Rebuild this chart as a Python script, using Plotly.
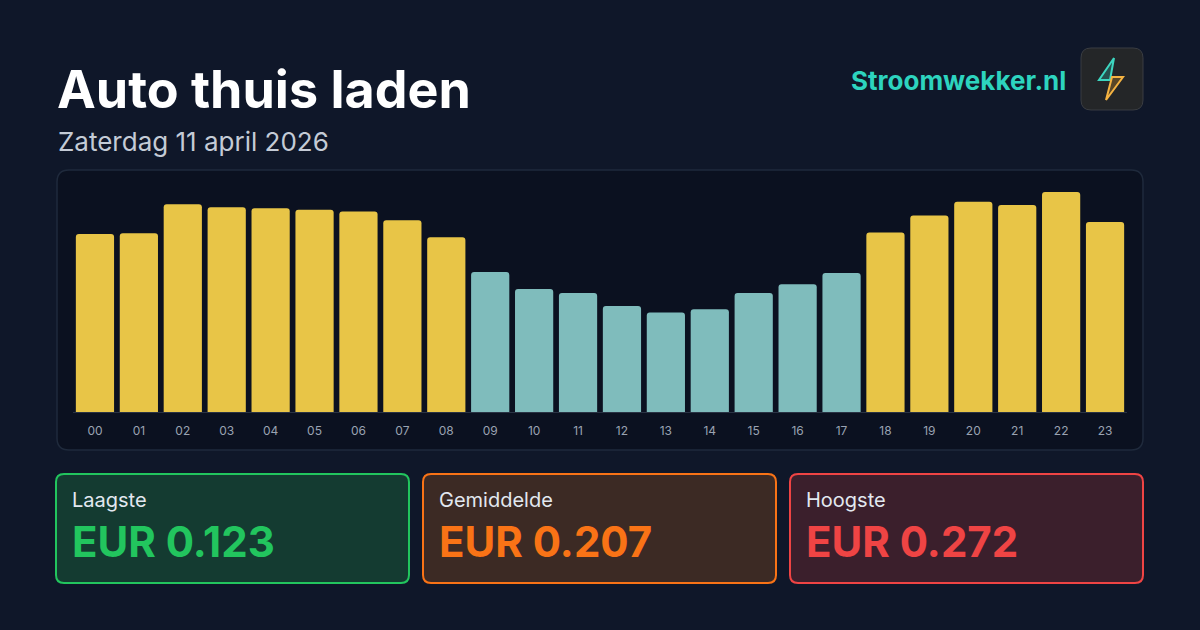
import plotly.graph_objects as go

hours = ["%02d" % h for h in range(24)]
prices = [0.220, 0.221, 0.257, 0.253, 0.252, 0.250, 0.248, 0.237, 0.216,
          0.173, 0.152, 0.147, 0.131, 0.123, 0.127, 0.147, 0.158, 0.172,
          0.222, 0.243, 0.260, 0.256, 0.272, 0.235]
cheap_hours = set(range(9, 18))
card_labels = ["Laagste", "Gemiddelde", "Hoogste"]
card_values = ["EUR 0.123", "EUR 0.207", "EUR 0.272"]

W, H = 1200, 630
BG = "#0f1729"
FONT = "Inter"

colors = ["#7fbcbc" if i in cheap_hours else "#e8c547" for i in range(24)]


def rrect(x0, y0, x1, y1, r):
    # pixel coords (top-left origin) -> paper coords path with rounded corners
    def p(x, y):
        return "%.5f,%.5f" % (x / W, 1 - y / H)
    return ("M" + p(x0 + r, y0) + " L" + p(x1 - r, y0) + " Q" + p(x1, y0) + " " + p(x1, y0 + r)
            + " L" + p(x1, y1 - r) + " Q" + p(x1, y1) + " " + p(x1 - r, y1)
            + " L" + p(x0 + r, y1) + " Q" + p(x0, y1) + " " + p(x0, y1 - r)
            + " L" + p(x0, y0 + r) + " Q" + p(x0, y0) + " " + p(x0 + r, y0) + " Z")


def poly(pts):
    return "M" + " L".join("%.5f,%.5f" % (x / W, 1 - y / H) for x, y in pts) + " Z"


fig = go.Figure(go.Bar(x=hours, y=prices, marker=dict(color=colors, cornerradius=3, line_width=0),
                       hoverinfo="x+y"))

shapes = [
    dict(type="path", xref="paper", yref="paper", path=rrect(57, 170, 1143, 450, 12),
         fillcolor="#0b1120", line=dict(color="#1f2a3c", width=1.5), layer="below"),
    dict(type="path", xref="paper", yref="paper", path=rrect(1081, 48, 1143, 110, 10),
         fillcolor="#242628", line=dict(color="#3a3d42", width=1)),
    dict(type="path", xref="paper", yref="paper",
         path=poly([(1114, 58), (1099, 80), (1110, 80)]),
         fillcolor="rgba(45,212,191,0.25)", line=dict(color="#3dd6c0", width=2)),
    dict(type="path", xref="paper", yref="paper",
         path=poly([(1106, 100), (1123, 77), (1112, 77)]),
         fillcolor="rgba(245,166,35,0.25)", line=dict(color="#f5b342", width=2)),
]

cards = [(56, 409, "#143b31", "#22c55e", "#22c55e"),
         (423, 776, "#3c2a24", "#f97316", "#f97316"),
         (790, 1143, "#3b1f2c", "#ef4444", "#ef4444")]
annotations = [
    dict(text="<b>Auto thuis laden</b>", x=55 / W, y=1 - 90 / H, font=dict(size=52, color="white")),
    dict(text="Zaterdag 11 april 2026", x=56 / W, y=1 - 142 / H, font=dict(size=26, color="#c4cbd6")),
]
annotations.append(dict(text="<b>Stroomwekker.nl</b>", x=1068 / W, y=1 - 80 / H, xanchor="right",
                        font=dict(size=26, color="#2dd4bf")))
for (x0, x1, fill, border, vc), lab, val in zip(cards, card_labels, card_values):
    shapes.append(dict(type="path", xref="paper", yref="paper", path=rrect(x0, 474, x1, 583, 8),
                       fillcolor=fill, line=dict(color=border, width=2)))
    annotations.append(dict(text=lab, x=(x0 + 14) / W, y=1 - 500 / H,
                            font=dict(size=20, color="#e2e8f0")))
    annotations.append(dict(text="<b>" + val + "</b>", x=(x0 + 14) / W, y=1 - 541 / H,
                            font=dict(size=42, color=vc)))
for a in annotations:
    a.update(xref="paper", yref="paper", showarrow=False, yanchor="middle",
             xanchor=a.get("xanchor", "left"))
    a["font"]["family"] = FONT

fig.update_layout(
    width=W, height=H, margin=dict(l=0, r=0, t=0, b=0),
    paper_bgcolor=BG, plot_bgcolor="rgba(0,0,0,0)",
    bargap=0.13, showlegend=False, shapes=shapes, annotations=annotations,
    font=dict(family=FONT),
    xaxis=dict(domain=[73 / W, 1127 / W], showgrid=False, zeroline=False, showline=True,
               linecolor="#2a3344", linewidth=1, ticks="", ticklabelstandoff=8,
               tickfont=dict(size=12, color="#9aa3b2", family=FONT), fixedrange=True),
    yaxis=dict(domain=[1 - 412 / H, 1 - 192 / H], range=[0, 0.272], visible=False,
               fixedrange=True),
)

fig.write_html("out.html", config={"displayModeBar": False},
               post_script="document.body.style.margin='0';")
